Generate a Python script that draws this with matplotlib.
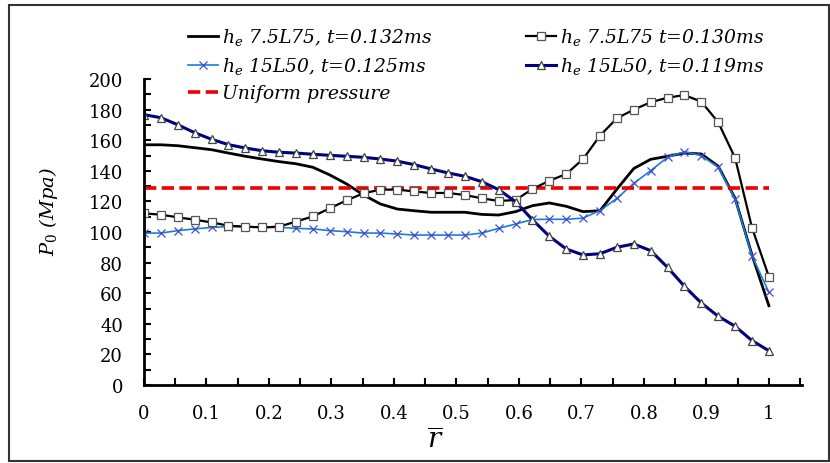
import numpy as np
import matplotlib
matplotlib.use("Agg")
import matplotlib.pyplot as plt
from matplotlib.patches import Rectangle
from matplotlib.ticker import MultipleLocator

plt.rcParams['font.family'] = 'DejaVu Serif'
plt.rcParams['mathtext.fontset'] = 'custom'
plt.rcParams['mathtext.rm'] = 'DejaVu Serif'
plt.rcParams['mathtext.it'] = 'DejaVu Serif:italic'

# radial position, 38 sampling stations
r = np.linspace(0, 1, 38)

# h_e 7.5L75, t=0.132ms
p_75_132 = [157.0, 157.0, 156.4, 155.1, 153.8, 151.6, 149.5, 147.7, 146.0, 144.6,
            142.3, 137.3, 131.4, 124.2, 118.3, 115.0, 113.9, 112.9, 112.9, 112.9,
            111.5, 111.1, 113.3, 117.2, 119.0, 116.8, 113.3, 113.9, 128.0, 141.5,
            147.5, 149.5, 151.6, 151.0, 143.0, 122.0, 85.0, 51.8]

# h_e 7.5L75, t=0.130ms
p_75_130 = [112.2, 111.3, 109.6, 108.0, 106.3, 104.1, 103.5, 103.0, 103.5, 106.8,
            110.2, 115.5, 120.7, 125.3, 127.7, 127.7, 126.5, 125.5, 125.5, 124.2,
            122.0, 120.3, 120.9, 128.1, 133.5, 137.9, 147.7, 163.0, 174.3, 180.0,
            184.8, 187.8, 189.5, 185.2, 171.7, 148.4, 102.8, 70.8]

# h_e 15L50, t=0.125ms
p_50_125 = [99.3, 99.3, 100.9, 102.0, 103.0, 103.5, 103.5, 103.0, 103.0, 102.4,
            102.0, 100.9, 100.2, 99.3, 99.3, 98.7, 98.0, 98.0, 98.0, 98.0,
            99.3, 102.4, 105.2, 108.2, 108.3, 108.3, 109.1, 114.0, 122.0, 131.8,
            140.1, 148.8, 152.5, 149.9, 142.3, 121.6, 84.5, 60.6]

# h_e 15L50, t=0.119ms
p_50_119 = [176.7, 174.7, 170.1, 164.9, 160.6, 157.1, 154.9, 153.1, 152.1, 151.6,
            150.8, 150.1, 149.5, 148.8, 147.7, 146.3, 144.0, 141.2, 138.6, 136.4,
            132.9, 127.7, 119.8, 108.0, 97.2, 88.9, 85.0, 85.8, 90.0, 92.2,
            87.8, 76.9, 64.5, 53.6, 44.9, 38.4, 29.0, 22.4]

p_uniform = 129.0

fig = plt.figure(figsize=(8.3, 4.64), dpi=100)
# outer frame
fig.patches.append(Rectangle((9 / 830, 2 / 464), 820 / 830, 456 / 464,
                             transform=fig.transFigure, fill=False,
                             edgecolor='#333333', linewidth=1.5))

ax = fig.add_axes([144 / 830, 78 / 464, 658 / 830, 306 / 464])

ln_black, = ax.plot(r, p_75_132, color='black', lw=2.0)
ln_x, = ax.plot(r, p_50_125, color='#1380e0', lw=1.2, marker='x',
                markersize=6, markeredgecolor='#4a4ac8', markeredgewidth=0.9)
ln_uni, = ax.plot([0, 1], [p_uniform, p_uniform], color='#ee0000', lw=2.6,
                  dashes=(3.4, 1.5))
ln_sq, = ax.plot(r, p_75_130, color='black', lw=1.6, marker='s',
                 markersize=5.5, markerfacecolor='white',
                 markeredgecolor='#555555', markeredgewidth=0.9)
ln_tri, = ax.plot(r, p_50_119, color='#000080', lw=2.2, marker='^',
                  markersize=6, markerfacecolor='white',
                  markeredgecolor='#444444', markeredgewidth=0.9)

ax.set_xlim(0, 1.053)
ax.set_ylim(0, 200)
ax.xaxis.set_minor_locator(MultipleLocator(0.05))
ax.yaxis.set_major_locator(MultipleLocator(20))
ax.yaxis.set_minor_locator(MultipleLocator(10))
ax.set_xticks(np.arange(0, 1.01, 0.1))
ax.set_xticklabels(['0', '0.1', '0.2', '0.3', '0.4', '0.5', '0.6', '0.7', '0.8', '0.9', '1'])
ax.tick_params(which='both', direction='in', length=5, width=1.5, labelsize=13)
ax.tick_params(axis='x', pad=14)
ax.tick_params(axis='y', pad=15)
for s in ['top', 'right']:
    ax.spines[s].set_visible(False)
for s in ['left', 'bottom']:
    ax.spines[s].set_linewidth(2)

fig.text(435 / 830, 1 - 441 / 464, r'$\overline{r}$', fontsize=20,
         ha='center', va='center')
ax.set_ylabel(r'$P_0$ (Mpa)', fontsize=14, style='italic')
ax.yaxis.set_label_coords(-0.128, 0.57)

handles = [ln_black, ln_x, ln_uni, ln_sq, ln_tri]
labels = [r'$h_e$ 7.5L75, t=0.132ms', r'$h_e$ 15L50, t=0.125ms', 'Uniform pressure',
          r'$h_e$ 7.5L75 t=0.130ms', r'$h_e$ 15L50, t=0.119ms']
fig.legend(handles, labels, ncol=2, loc='upper left',
           bbox_to_anchor=(179 / 830, 1 - 18 / 464), frameon=False,
           prop={'style': 'italic', 'size': 13.5}, handlelength=1.6,
           handletextpad=0.2, columnspacing=5.0, labelspacing=0.42,
           borderpad=0)

fig.savefig('out.png', dpi=100)
